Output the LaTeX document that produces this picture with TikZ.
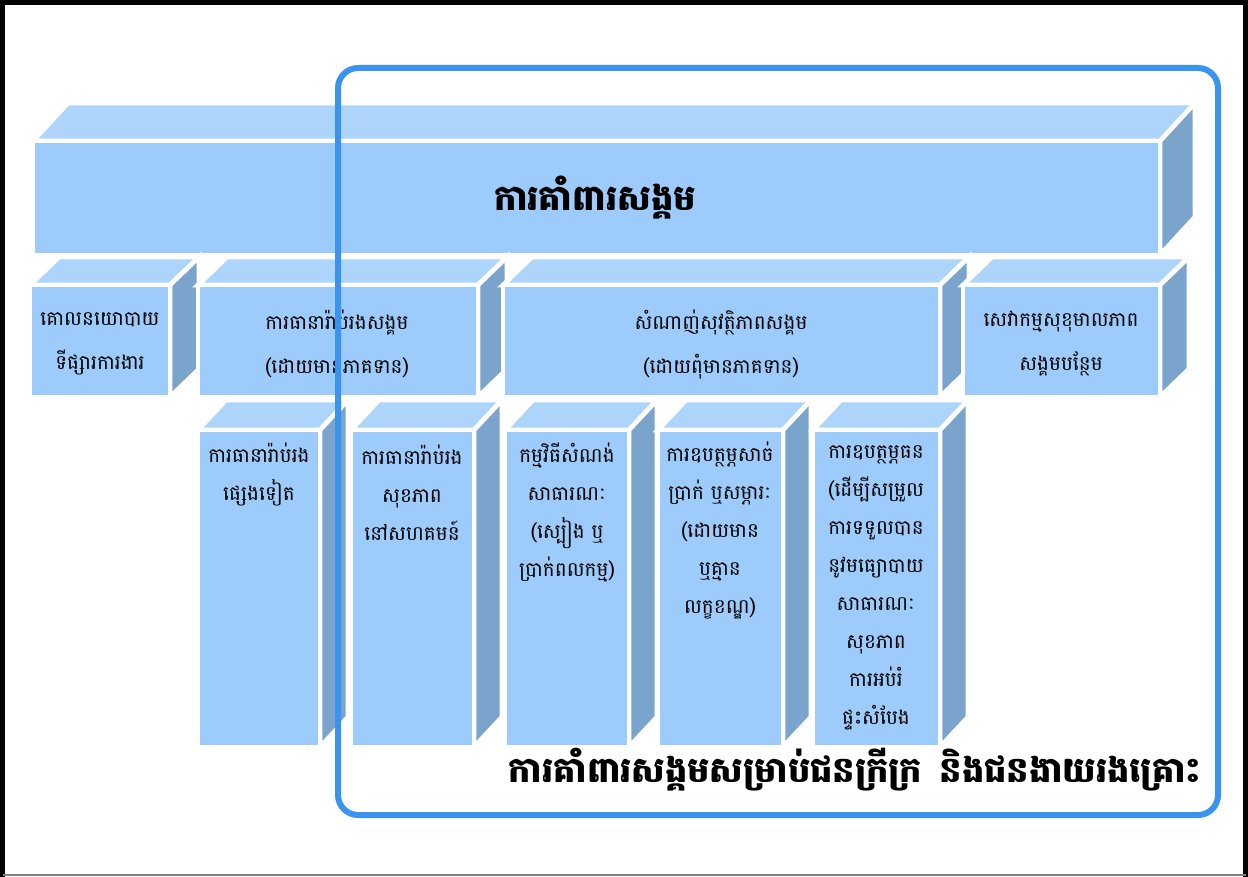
\documentclass[tikz,border=0pt]{standalone}
\usepackage{fontspec}
\newfontfamily\kh[Script=Khmer]{Battambang}
\definecolor{frontc}{HTML}{9DCBFB}
\definecolor{topc}{HTML}{ADD5FB}
\definecolor{sidec}{HTML}{7BA4CD}
\definecolor{framec}{HTML}{3A93EE}
\tikzset{
  face/.style={draw=white, line width=3.5pt, line join=miter},
  rowlbl/.style={font=\kh\fontsize{15}{33}\selectfont, align=center, text=black, inner sep=0pt},
  collbl/.style={font=\kh\fontsize{15}{28.5}\selectfont, align=center, text=black, inner sep=0pt},
  bigtitle/.style={inner sep=0pt, text=black},
  bluebox/.style={draw=framec, line width=4.5pt, rounded corners=15pt}
}
\newcommand\slab[6]{%
  \path[face, fill=topc] (#1,#2) -- ({#1+#5},{#2-#6}) -- ({#3+#5},{#2-#6}) -- (#3,#2) -- cycle;
  \path[face, fill=sidec] (#3,#2) -- ({#3+#5},{#2-#6}) -- ({#3+#5},{#4-#6}) -- (#3,#4) -- cycle;
  \path[face, fill=frontc] (#1,#2) rectangle (#3,#4);
}
\begin{document}
\begin{tikzpicture}[x=0.75pt, y=-0.75pt]
\useasboundingbox (0,0) rectangle (1248,877);
\fill[white] (0,0) rectangle (1248,877);
% outer frame
\draw[black, line width=3.5pt] (2.5,877) -- (2.5,2.5) -- (1245.5,2.5) -- (1245.5,877);
\draw[gray, line width=1pt] (2.5,875) -- (1245.5,875);
% big box
\slab{33}{141}{1160}{255}{35}{38}
% row 2
\slab{30}{285}{170}{397}{29}{28}
\slab{198}{285}{478}{397}{29}{28}
\slab{503}{285}{940}{397}{29}{28}
\slab{963}{285}{1160}{397}{29}{28}
% row 3
\slab{198}{430}{320}{747}{28}{30}
\slab{351}{430}{474}{747}{28}{30}
\slab{505}{430}{629}{747}{28}{30}
\slab{658}{430}{783}{747}{28}{30}
\slab{813}{430}{940}{747}{28}{30}
% texts
\node[bigtitle] (title) at (595,198) {\resizebox{151.5pt}{!}{\kh\bfseries ការគាំពារសង្គម}};
\node[rowlbl] (b1) at (100,344) {គោលនយោបាយ\\ទីផ្សារការងារ};
\node[rowlbl] (b2) at (337,344) {ការធានារ៉ាប់រងសង្គម\\(ដោយមានភាគទាន)};
\node[rowlbl] (b3) at (721,344) {សំណាញ់សុវត្ថិភាពសង្គម\\(ដោយពុំមានភាគទាន)};
\node[rowlbl] (b4) at (1061,344) {សេវាកម្មសុខុមាលភាព\\សង្គមបន្ថែម};
\node[collbl] (c1) at (259,474) {ការធានារ៉ាប់រង\\ផ្សេងទៀត};
\node[collbl] (c2) at (412,493) {ការធានារ៉ាប់រង\\សុខភាព\\នៅសហគមន៍};
\node[collbl] (c3) at (567,512) {កម្មវិធីសំណង់\\សាធារណៈ\\(ស្បៀង ឬ\\ប្រាក់ពលកម្ម)};
\node[collbl] (c4) at (720,531) {ការឧបត្ថម្ភសាច់\\ប្រាក់ ឬសម្ភារៈ\\(ដោយមាន\\ឬគ្មាន\\លក្ខខណ្ឌ)};
\node[collbl] (c5) at (876,588) {ការឧបត្ថម្ភធន\\(ដើម្បីសម្រួល\\ការទទួលបាន\\នូវមធ្យោបាយ\\សាធារណៈ\\សុខភាព\\ការអប់រំ\\ផ្ទះសំបែង};
% blue frame
\draw[bluebox] (338,68) rectangle (1218,815);
\node[bigtitle] (bottom) at (855,770) {\resizebox{519pt}{!}{\kh\bfseries ការគាំពារសង្គមសម្រាប់ជនក្រីក្រ\enspace និងជនងាយរងគ្រោះ}};
\end{tikzpicture}
\end{document}
